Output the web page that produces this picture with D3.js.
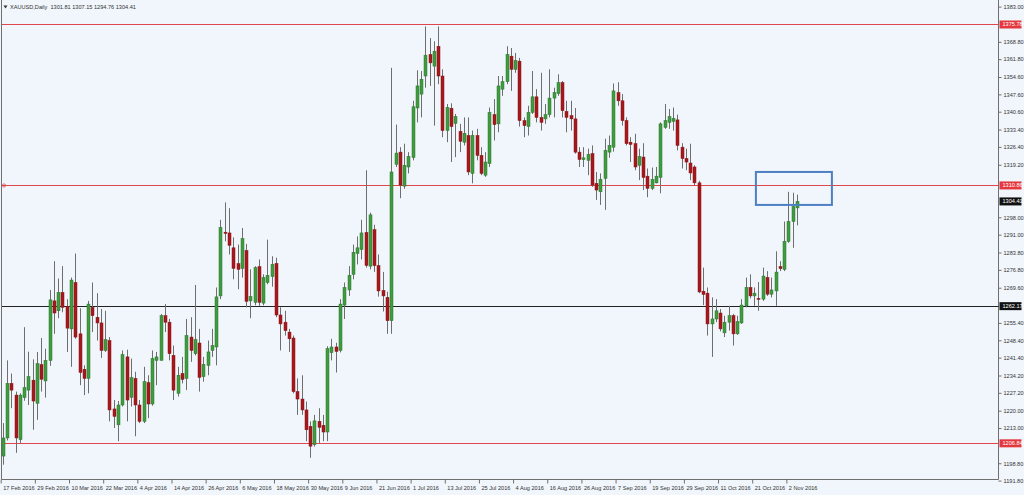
<!DOCTYPE html>
<html><head><meta charset="utf-8">
<script src="https://cdn.jsdelivr.net/npm/d3@7"></script>
<style>html,body{margin:0;padding:0;background:#f0f6fc;overflow:hidden}svg{display:block}</style>
</head><body><svg id="c" width="1024" height="495"></svg>
<script>
const symbolTitle = "XAUUSD,Daily  1301.81 1307.15 1294.76 1304.41";
const open = [1201.7,1209,1231,1226.3,1208.3,1225.3,1228.3,1232.3,1223,1238.6,1232,1240.3,1264.3,1260.3,1267.7,1262.1,1253,1271.7,1251,1236.7,1233,1261.7,1257.7,1255.4,1244.3,1248.3,1220.7,1214.3,1222.3,1241.7,1225.4,1233,1222.3,1215.7,1231.3,1222.7,1240.3,1240.3,1258.3,1255.7,1242.3,1227,1235,1233,1249.7,1243,1247.3,1233.7,1238.3,1244.3,1245.7,1266.3,1292,1291.7,1285.7,1279.3,1277.4,1284.6,1264.3,1263.7,1278.1,1263.4,1271.7,1274.1,1279.4,1258.6,1255.7,1251.7,1249.3,1227.7,1224.7,1220.3,1213.7,1206.3,1215.7,1214.1,1211.4,1243.4,1245.7,1244.3,1262.6,1268.7,1275,1283.4,1285,1291.9,1278.3,1293,1278.5,1268.5,1265.7,1256.3,1319.4,1324.3,1310.6,1318.3,1322.1,1342.1,1347.7,1355,1363.7,1359,1367,1355,1333,1342,1335.9,1332.7,1328.3,1331,1315.7,1331,1323,1315,1319.7,1339.4,1335.7,1349.7,1352.7,1363,1357.7,1361,1337,1334.6,1340.3,1346.6,1338.3,1337.7,1339.4,1346.1,1347.9,1352.3,1340.7,1339,1337.7,1324.3,1321.3,1321,1323.7,1311.7,1308.3,1313.7,1324.3,1326.3,1348.3,1345,1337,1328.3,1327.7,1319,1322.3,1314.6,1309.7,1311.9,1314.1,1334.3,1336.3,1336.7,1337.3,1326.3,1321.7,1319.9,1318.3,1311.9,1268.2,1267.4,1255,1257,1259.4,1251.4,1255.7,1258.3,1251,1255.4,1262.3,1269.7,1266.3,1265.3,1265,1273.7,1267,1268.3,1278.1,1277,1288.3,1296.3,1301.81];
const high = [1215,1240.3,1235,1227.7,1227,1253.7,1243.8,1240.7,1243.7,1249.3,1245,1268.7,1280.3,1273.3,1278.3,1265,1273.7,1283.4,1261.3,1238.3,1264.3,1271.7,1267.4,1261,1260.3,1249.7,1224.3,1223.9,1244.3,1244.6,1241,1235.7,1224.3,1237.7,1234.3,1244.3,1243.7,1259,1263,1257,1246.3,1237.7,1241.7,1257,1257.7,1270.7,1253,1241.7,1248.3,1253,1269.7,1297,1304,1301.7,1289.9,1287,1293.7,1287.3,1277,1278.3,1281,1275,1289,1282.3,1281.7,1261.7,1260.3,1253,1250.3,1233,1234.3,1223.7,1215.7,1218.3,1221,1218.3,1246,1249,1247.4,1265,1271.7,1278.3,1287,1290.3,1297,1317,1299.9,1295,1283,1276,1268,1358.3,1335.4,1326.3,1327.7,1324.3,1345,1357.3,1357,1375,1370.3,1369,1375,1357.7,1343.7,1344,1339.7,1335.7,1338.3,1338.3,1333,1333.7,1326.3,1324.3,1342.3,1345.7,1355,1355,1367,1366.3,1364.3,1362.3,1338.3,1343,1357,1349.7,1356.3,1343.7,1357.7,1350.3,1355.7,1353,1345,1345,1342.1,1326.3,1326.3,1325.7,1327,1316.3,1315.7,1329.7,1331,1352,1352.5,1347.7,1338.3,1330.3,1331.7,1325.7,1327.9,1317.7,1318.1,1318.3,1336.3,1343.7,1341.7,1342.3,1339.4,1327.9,1325.7,1327.7,1319,1312.7,1277.7,1269.7,1265.7,1265,1261,1258.3,1262.3,1259,1258.3,1265,1273.7,1275,1269.7,1271.9,1277.7,1276.3,1273.7,1284.3,1280.3,1296.3,1308.3,1307.9,1307.15];
const low = [1198.2,1208,1221,1203,1207,1224,1222.3,1212.3,1216.3,1227.7,1225.3,1238.1,1251,1257.3,1259.7,1243.7,1237.7,1249,1230.3,1226.3,1227,1251.7,1248.3,1241.3,1243.7,1215.7,1213,1207.7,1221.7,1215.7,1221.7,1209.7,1215,1215,1217,1222,1230.3,1240.3,1251.7,1240.3,1224.3,1225.7,1231,1228.3,1239.7,1242.3,1227.7,1231.7,1234.3,1241.7,1238.3,1265,1288.3,1283,1273,1269,1273.7,1261.7,1257.3,1262.5,1262.3,1262.5,1271,1270,1257.7,1244.3,1250.3,1243.7,1227,1218.3,1218.3,1207.7,1201,1205.5,1207,1207.7,1207.7,1240.3,1235.4,1243.5,1257,1266.3,1273,1279,1281,1277.7,1277,1276,1266,1260,1251,1251,1318.3,1305.7,1309.5,1315.7,1321,1336.3,1338.3,1350.3,1351,1335,1351.7,1330.3,1328.3,1320.3,1322.3,1324.3,1327,1315,1311.7,1321,1315,1314.3,1318.3,1329,1332.3,1347,1351.7,1349,1356.3,1334.6,1330.3,1331,1339.7,1336.3,1333,1335.7,1338.3,1338.3,1347,1338.3,1332.3,1333,1323.7,1318.3,1318.3,1315,1310.3,1305,1303,1301,1322,1324.5,1343,1335,1327,1320.3,1317,1313,1309,1306.1,1309,1311.7,1307.7,1333.7,1333.7,1333,1325,1317.7,1317,1313,1311,1267.4,1262.6,1250.3,1241.7,1255.7,1252,1249.7,1252.3,1246.3,1250.6,1255,1261.7,1265.3,1262.3,1260.3,1264.3,1266.3,1265.7,1262.3,1276.3,1276.3,1287.7,1285.7,1294.76];
const close = [1209,1231,1228.3,1209,1226.3,1229.3,1233.7,1223.9,1239,1232.7,1240.3,1264.7,1259.4,1267.7,1261.7,1253.3,1272.7,1249.7,1235.4,1233,1263,1258.3,1255.4,1244.3,1248.7,1220.3,1217.7,1222.3,1242.6,1224.3,1233.3,1222.3,1215.7,1231.7,1222.7,1241,1241.7,1258.3,1255.7,1243,1228.3,1234.3,1232.6,1250.3,1244.3,1248.7,1233.4,1238.7,1243.7,1246.3,1265.9,1293.9,1291.5,1286.7,1277.4,1277,1289.4,1264.1,1266.1,1277.7,1263.7,1273.7,1274.6,1279,1258.6,1255,1252.3,1249,1227.7,1224.7,1220.3,1212.3,1205.7,1215.9,1213.3,1211.4,1245,1245.7,1243.9,1263,1269.7,1274.6,1283.9,1285.7,1291.7,1278.6,1299,1278.5,1268.3,1266.3,1256.3,1316.3,1323.9,1311,1319,1322.6,1342.6,1351,1353.7,1363.4,1360.3,1365,1355,1333,1342.3,1334.6,1338.6,1328.7,1331.9,1316.3,1331,1323,1315.7,1320.3,1340.3,1335.4,1351,1352.7,1363.7,1357.7,1361.3,1337,1335,1340.3,1346.6,1338.3,1336.3,1339.4,1346.1,1348.3,1352.3,1341,1338.3,1337.7,1324.3,1321.3,1322,1323.4,1311,1309,1313.3,1325,1327,1349,1345,1337,1327.7,1327.4,1318.3,1322.6,1314.1,1309.7,1313.3,1314.6,1335.7,1337,1338.6,1337.9,1327,1321.7,1320.3,1315.9,1311.9,1267.9,1266.9,1255,1257,1260.3,1253,1255.7,1258.3,1251,1255.9,1262.6,1269.7,1266.3,1267.4,1265,1274.3,1267,1268.7,1275.9,1277.3,1288.3,1296.3,1302.3,1304.41];
const dateLabels = ["17 Feb 2016","29 Feb 2016","10 Mar 2016","22 Mar 2016","4 Apr 2016","14 Apr 2016","26 Apr 2016","6 May 2016","18 May 2016","30 May 2016","9 Jun 2016","21 Jun 2016","1 Jul 2016","13 Jul 2016","25 Jul 2016","4 Aug 2016","16 Aug 2016","26 Aug 2016","7 Sep 2016","19 Sep 2016","29 Sep 2016","11 Oct 2016","21 Oct 2016","2 Nov 2016"];
const barsPerDateLabel = 8;
const priceTicks = [1383.00,1368.80,1361.80,1354.60,1347.60,1340.60,1333.40,1326.40,1319.20,1298.00,1291.00,1283.80,1276.80,1269.60,1255.40,1248.40,1241.40,1234.20,1227.20,1220.00,1213.00,1198.80,1191.80];
const redLevels = [1375.78, 1310.86, 1206.84];
const blackLevels = [1262.17];
const bidPrice = 1304.41;
const zoneBox = {fromBar: 176.4, toBar: 194.2, top: 1316.3, bottom: 1303.0};

const W = 1024, H = 495;
const plotRight = 998.5, plotBottom = 479.5;
const svg = d3.select('#c');
const FONT = 'Liberation Sans, Arial, sans-serif';

svg.append('rect').attr('width', W).attr('height', H).attr('fill', '#f0f6fc');

const n = open.length;
const x = d3.scaleLinear().domain([0, n - 1]).range([2.7, 796.9]);
const y = d3.scaleLinear().domain([1191.8, 1383]).range([480.6, 6.6]);

// frame
svg.append('path').attr('d', `M1.5,0V${plotBottom}H${plotRight}V0`).attr('fill', 'none').attr('stroke', '#6f6f6f').attr('stroke-width', 1);

// level lines
const lv = svg.append('g');
redLevels.forEach(p => {
  lv.append('line').attr('x1', 2).attr('x2', plotRight).attr('y1', Math.round(y(p)) + 0.5).attr('y2', Math.round(y(p)) + 0.5)
    .attr('stroke', '#e0474c').attr('stroke-width', 1);
});
blackLevels.forEach(p => {
  lv.append('line').attr('x1', 2).attr('x2', plotRight).attr('y1', Math.round(y(p)) + 0.5).attr('y2', Math.round(y(p)) + 0.5)
    .attr('stroke', '#222').attr('stroke-width', 1);
});
lv.append('circle').attr('cx', 4).attr('cy', Math.round(y(redLevels[1])) + 0.5).attr('r', 1.6).attr('fill', 'none').attr('stroke', '#e0474c').attr('stroke-width', 0.8);

// candles
const idx = d3.range(n);
const bw = 3;
const cg = svg.append('g');
cg.selectAll('line.wick').data(idx).join('line').attr('class', 'wick')
  .attr('x1', i => Math.round(x(i)) + 0.5).attr('x2', i => Math.round(x(i)) + 0.5)
  .attr('y1', i => y(high[i])).attr('y2', i => y(low[i]))
  .attr('stroke', '#6e6e6e').attr('stroke-width', 1);
cg.selectAll('rect.body').data(idx).join('rect').attr('class', 'body')
  .attr('x', i => Math.round(x(i)) - 1)
  .attr('y', i => y(Math.max(open[i], close[i])))
  .attr('width', bw)
  .attr('height', i => Math.max(1, Math.abs(y(open[i]) - y(close[i]))))
  .attr('fill', i => close[i] >= open[i] ? '#3f9c3f' : '#a5181d')
  .attr('stroke', i => close[i] >= open[i] ? '#2b742b' : '#8a1216')
  .attr('stroke-width', 0.5);

// zone rectangle
svg.append('rect')
  .attr('x', x(zoneBox.fromBar)).attr('y', y(zoneBox.top))
  .attr('width', x(zoneBox.toBar) - x(zoneBox.fromBar))
  .attr('height', y(zoneBox.bottom) - y(zoneBox.top))
  .attr('fill', 'none').attr('stroke', '#4d7fc2').attr('stroke-width', 2);

// right axis
const ya = svg.append('g').attr('transform', `translate(${plotRight},0)`)
  .call(d3.axisRight(y).tickValues(priceTicks).tickFormat(d3.format('.2f')).tickSize(3).tickPadding(2));
ya.select('.domain').remove();
ya.selectAll('line').attr('stroke', '#6f6f6f');
ya.selectAll('text').attr('font-family', FONT).attr('font-size', 5.6).attr('fill', '#333');

function tag(p, bg) {
  const g = svg.append('g').attr('transform', `translate(${plotRight + 1},${y(p)})`);
  g.append('rect').attr('x', 0).attr('y', -4).attr('width', 22).attr('height', 8).attr('fill', bg);
  g.append('text').attr('x', 3).attr('y', 0).attr('dy', '0.35em').text(d3.format('.2f')(p))
    .attr('font-family', FONT).attr('font-size', 5.6).attr('fill', '#fff');
}
redLevels.forEach(p => tag(p, '#e4373e'));
blackLevels.forEach(p => tag(p, '#111'));
tag(bidPrice, '#111');

// bottom axis
const tickIdx = dateLabels.map((d, k) => k * barsPerDateLabel);
const xa = svg.append('g').attr('transform', `translate(-2,${plotBottom})`)
  .call(d3.axisBottom(x).tickValues(tickIdx).tickFormat((d, k) => dateLabels[k]).tickSize(4).tickPadding(3));
xa.select('.domain').remove();
xa.selectAll('line').attr('stroke', '#6f6f6f');
xa.selectAll('text').attr('text-anchor', 'start').attr('dx', 2).attr('font-family', FONT).attr('font-size', 5.6).attr('fill', '#333');

// title
svg.append('path').attr('d', 'M3.5,5.5 L7.5,5.5 L5.5,8.5 Z').attr('fill', '#333');
svg.append('text').attr('x', 10).attr('y', 9).text(symbolTitle).style('white-space', 'pre')
  .attr('font-family', FONT).attr('font-size', 5.6).attr('fill', '#333');
</script></body></html>
